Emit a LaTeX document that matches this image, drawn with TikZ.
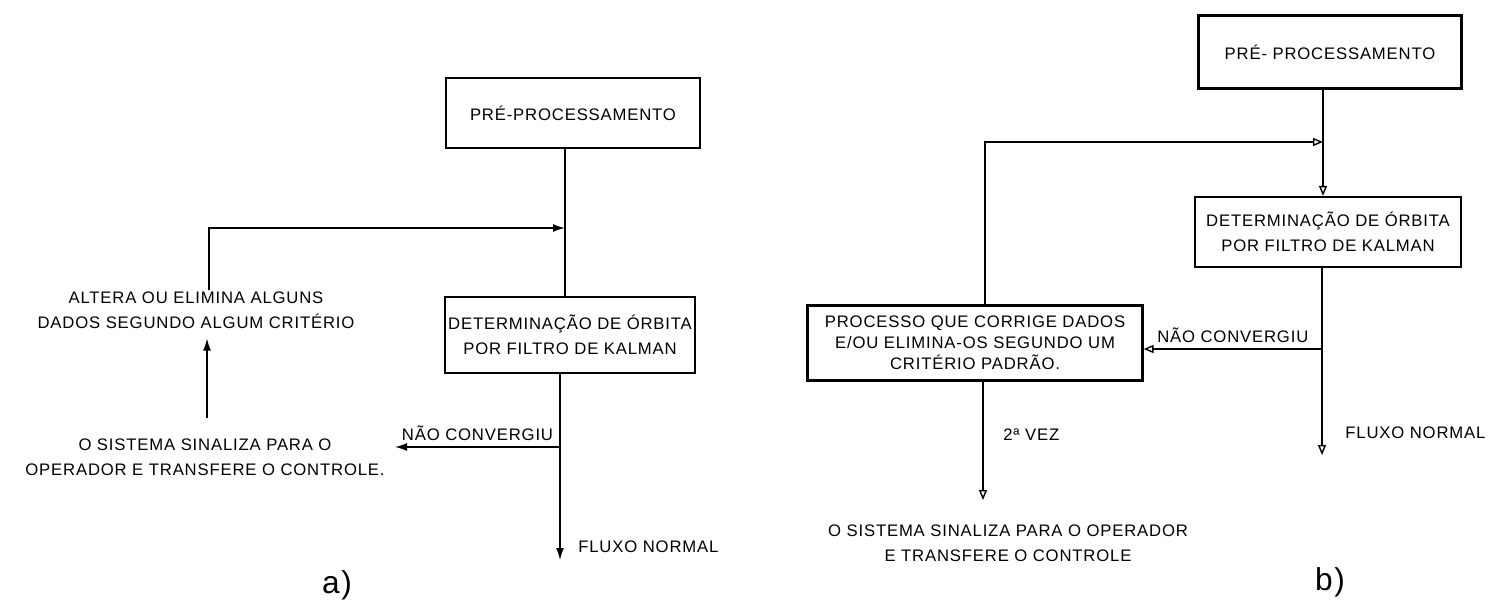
\documentclass[tikz,border=0pt]{standalone}
\usepackage{fontspec}
\setmainfont{Liberation Sans}[LetterSpace=5]
\usetikzlibrary{arrows.meta}
\newcommand{\fcfont}{\fontsize{9.5}{14}\selectfont}
\newcommand{\fcbox}[5] {\node at (#1) (#2) [fcbox, minimum width=#3, minimum height=#4] {#5};}
\newcommand{\fctext}[3] {\node at (#1) (#2) [fctext] {#3};}
\tikzset{
  fcbox/.style={draw, line width=1.3pt, inner sep=0pt, align=center, font=\fcfont},
  fctext/.style={inner sep=0pt, align=center, font=\fcfont},
  fcline/.style={line width=0.8pt},
  fa/.style={fcline, -{Latex[length=2.4mm, width=1.6mm]}},
  fb/.style={fcline, -{Triangle[open, length=2mm, width=1.6mm]}},
  fccap/.style={inner sep=0pt, font=\fontsize{18}{18}\selectfont}
}

\begin{document}
\begin{tikzpicture}[x=0.02cm, y=-0.02cm]
\useasboundingbox (0,0) rectangle (1500,600);

% a)
\fcbox {573,113} {preA} {5.08cm} {1.4cm} {PRÉ-PROCESSAMENTO};
\fcbox {570,335} {kalA} {5cm} {1.52cm} {DETERMINAÇÃO DE ÓRBITA\\POR FILTRO DE KALMAN};
\fctext {196,310} {altA} {ALTERA OU ELIMINA ALGUNS\\DADOS SEGUNDO ALGUM CRITÉRIO};
\fctext {205,457} {sinA} {O SISTEMA SINALIZA PARA O\\OPERADOR E TRANSFERE O CONTROLE.};
\node at (578,547) (fluxA) [fctext, anchor=west] {FLUXO NORMAL};
\node at (337,585) (capA) [fccap] {a)};

\coordinate (jA) at (565,228);
\coordinate (fbA) at (209,290);
\coordinate (upA) at (207,0);
\coordinate (ncA) at (560,447);
\coordinate (ncA2) at (395,447);
\coordinate (endA) at (560,560);

\draw [fcline] (preA.south -| jA) -- (kalA.north -| jA);
\draw [fa] (fbA) |- (jA);
\draw [fa, shorten <=0.4cm, shorten >=0.2cm] (sinA.north -| upA) -- (altA.south -| upA);
\draw [fa] (kalA.south -| endA) -- (endA);
\draw [fa] (ncA) -- (ncA2) node [midway, above, fctext, yshift=3pt] {NÃO CONVERGIU};

% b)
\fcbox {1330,52} {preB} {5.26cm} {1.46cm} {PRÉ- PROCESSAMENTO};
\fcbox {1328,232} {kalB} {5.32cm} {1.4cm} {DETERMINAÇÃO DE ÓRBITA\\POR FILTRO DE KALMAN};
\node at (975,343) (procB) [fcbox, minimum width=6.7cm, minimum height=1.5cm, font={\fontsize{9.5}{12}\selectfont}] {PROCESSO QUE CORRIGE DADOS\\E/OU ELIMINA-OS SEGUNDO UM\\CRITÉRIO PADRÃO.};
\fctext {1008,543} {sinB} {O SISTEMA SINALIZA PARA O OPERADOR\\E TRANSFERE O CONTROLE};
\node at (1345,433) (fluxB) [fctext, anchor=west] {FLUXO NORMAL};
\node at (1003,435) (vezB) [fctext, anchor=west] {2ª VEZ};
\node at (1330,582) (capB) [fccap] {b)};

\coordinate (jB) at (1323,142);
\coordinate (fbB) at (985,0);
\coordinate (ncB) at (1322,349);
\coordinate (endB) at (1322,455);
\coordinate (endB2) at (983,500);

\draw [fb] (preB.south -| jB) -- (kalB.north -| jB);
\draw [fb] (procB.north -| fbB) |- (jB);
\draw [fb] (kalB.south -| endB) -- (endB);
\draw [fb] (ncB) -- (procB.east |- ncB) node [midway, above, fctext, yshift=3pt] {NÃO CONVERGIU};
\draw [fb] (procB.south -| endB2) -- (endB2);

\end{tikzpicture}
\end{document}
